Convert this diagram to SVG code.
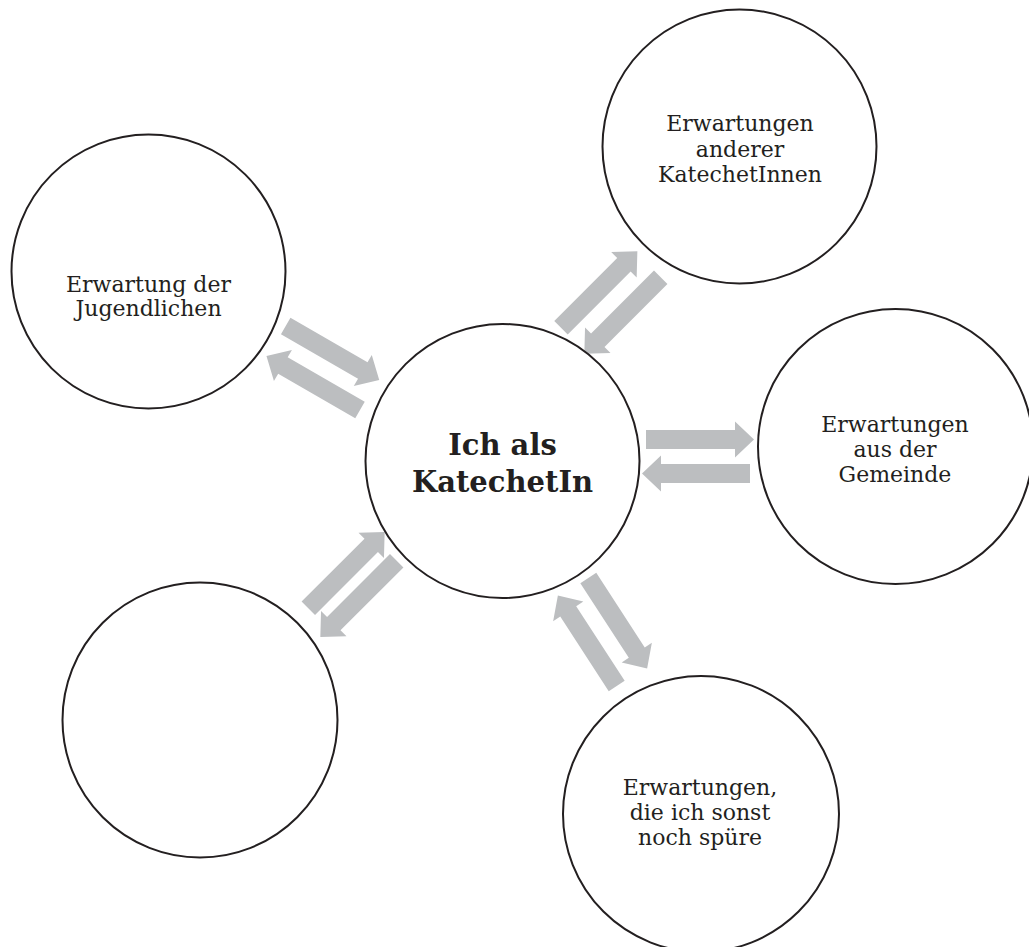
<svg xmlns="http://www.w3.org/2000/svg" xmlns:xlink="http://www.w3.org/1999/xlink" width="1029" height="947" viewBox="0 0 1029 947">
<style>
.c{fill:#fff;stroke:#231f20;stroke-width:2}
.t{font-family:"DejaVu Serif","Liberation Serif",serif;font-size:22px;fill:#231f20;text-anchor:middle}
.b{font-family:"DejaVu Serif","Liberation Serif",serif;font-size:29px;font-weight:bold;fill:#231f20;text-anchor:middle}
.a{fill:#bcbec0}
</style>
<defs>
<path id="arr" d="M0,-9.5 H89 V-18 L108,0 L89,18 V9.5 H0 Z"/>
</defs>
<rect width="1029" height="947" fill="#fff"/>
<g id="connectors" class="a">
<use xlink:href="#arr" href="#arr" transform="translate(561,327.7) rotate(-45)"/>
<use xlink:href="#arr" href="#arr" transform="translate(660.7,277.3) rotate(135)"/>
<use xlink:href="#arr" href="#arr" transform="translate(285.7,326) rotate(30)"/>
<use xlink:href="#arr" href="#arr" transform="translate(360,410) rotate(210)"/>
<use xlink:href="#arr" href="#arr" transform="translate(646,439.5) rotate(0)"/>
<use xlink:href="#arr" href="#arr" transform="translate(750,473.5) rotate(180)"/>
<use xlink:href="#arr" href="#arr" transform="translate(308.3,608.3) rotate(-45)"/>
<use xlink:href="#arr" href="#arr" transform="translate(396.7,560.7) rotate(135)"/>
<use xlink:href="#arr" href="#arr" transform="translate(616.7,686) rotate(237)"/>
<use xlink:href="#arr" href="#arr" transform="translate(588.3,578) rotate(57)"/>
</g>
<g id="center">
<circle class="c" cx="502.5" cy="461" r="137"/>
<text class="b" x="502.5" y="455">Ich als</text>
<text class="b" x="502.5" y="492">KatechetIn</text>
</g>
<g id="jugendliche">
<circle class="c" cx="148.5" cy="271.5" r="137"/>
<text class="t" x="148.5" y="292">Erwartung der</text>
<text class="t" x="148.5" y="316">Jugendlichen</text>
</g>
<g id="katechetinnen">
<circle class="c" cx="739.5" cy="146.5" r="137"/>
<text class="t" x="740" y="131">Erwartungen</text>
<text class="t" x="740" y="156.5">anderer</text>
<text class="t" x="740" y="182">KatechetInnen</text>
</g>
<g id="gemeinde">
<circle class="c" cx="895.5" cy="446.5" r="137.5"/>
<text class="t" x="895" y="432">Erwartungen</text>
<text class="t" x="895" y="457">aus der</text>
<text class="t" x="895" y="482">Gemeinde</text>
</g>
<g id="leer">
<circle class="c" cx="200" cy="720" r="137.5"/>
</g>
<g id="sonst">
<circle class="c" cx="701" cy="814" r="138"/>
<text class="t" x="700" y="795">Erwartungen,</text>
<text class="t" x="700" y="820">die ich sonst</text>
<text class="t" x="700" y="844.5">noch spüre</text>
</g>
</svg>
